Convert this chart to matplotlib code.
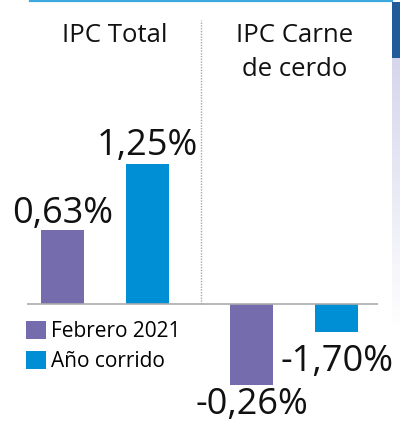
import matplotlib
matplotlib.use("Agg")
import matplotlib.pyplot as plt
import numpy as np
from matplotlib.patches import Rectangle

# ---- data ----
groups = ["IPC Total", "IPC Carne\nde cerdo"]
series = ["Febrero 2021", "Año corrido"]
# bar heights as drawn in the picture (%)
feb_values = [0.64, -0.69]
ano_values = [1.21, -0.24]
# value labels as printed
feb_labels = ["0,63%", "-0,26%"]
ano_labels = ["1,25%", "-1,70%"]

PURPLE = "#756cae"
BLUE = "#008fd5"

W, H = 400, 423
fig = plt.figure(figsize=(W / 100, H / 100), dpi=100)
ax = fig.add_axes([0, 0, 1, 1])
ax.set_xlim(-0.5556, 1.5608)
ax.set_ylim(-1.0216, 2.625)
ax.axis("off")

num_font = "Open Sans"
gx = np.arange(len(groups))
off = 0.225
bw = 0.23
b1 = ax.bar(gx - off, feb_values, bw, color=PURPLE, label=series[0], zorder=2)
b2 = ax.bar(gx + off, ano_values, bw, color=BLUE, label=series[1], zorder=2)

# zero line
ax.plot([-0.413, 1.444], [0, 0], color="#ababab", lw=1.2, zorder=3,
        solid_capstyle="butt")

# dotted divider
mid = (gx[0] + off + gx[1] - off) / 2 + 0.01
ax.plot([mid, mid], [0, 2.45], color="#a8a8a8", lw=1.0, ls=(0, (1, 1)), zorder=1)

# value labels
def put(bars, labels, up_px, down_px, size=26):
    for rect, lab in zip(bars, labels):
        h = rect.get_height()
        x = rect.get_x() + rect.get_width() / 2
        dy = up_px if h >= 0 else -down_px
        ax.annotate(lab, (x, h), xytext=(0, dy * 0.72), textcoords="offset points",
                    ha="center", va="baseline", fontsize=size, family=num_font,
                    color="#111111")

put(b1, feb_labels, 7.5, 29.5)
put(b2, ano_labels, 9.5, 38.5)

# group titles
title_dx = [0.05, 0.003]
for i, g in enumerate(groups):
    lines = g.split("\n")
    for j, ln in enumerate(lines):
        ax.text(gx[i] + title_dx[i], 1 - (42 + 34 * j) / H, ln,
                transform=ax.get_xaxis_transform(), ha="center", va="baseline",
                fontsize=18.5, family=num_font, color="#111111")

# legend
leg = ax.legend(handles=[b1, b2], loc="upper left",
                bbox_to_anchor=(22 / W, 1 - 317 / H), frameon=False,
                handlelength=0.95, handleheight=0.95,
                handletextpad=0.25, labelspacing=0.4, borderpad=0.2,
                borderaxespad=0.0,
                prop={"family": num_font, "size": 15})

# decorations: top line and right strip
fig.add_artist(plt.Line2D([30 / W, 392 / W], [1 - 1 / H, 1 - 1 / H],
                          color="#3ba9de", lw=1.6, transform=fig.transFigure,
                          zorder=5))
fig.add_artist(Rectangle((392 / W, 1 - 58 / H), 8 / W, 56 / H,
                         transform=fig.transFigure, facecolor="#1f5c99", lw=0,
                         zorder=5))
gax = fig.add_axes([392 / W, 1 - 330 / H, 8 / W, 272 / H])
gax.patch.set_visible(False)
grad = np.linspace(0, 1, 256)[:, None]
rgba = np.zeros((256, 1, 4))
rgba[..., 0] = 0.82
rgba[..., 1] = 0.82
rgba[..., 2] = 0.92
rgba[..., 3] = (1 - grad) * 0.9
gax.imshow(rgba, aspect="auto", extent=(0, 1, 0, 1))
gax.axis("off")

fig.savefig("out.png", dpi=100)
